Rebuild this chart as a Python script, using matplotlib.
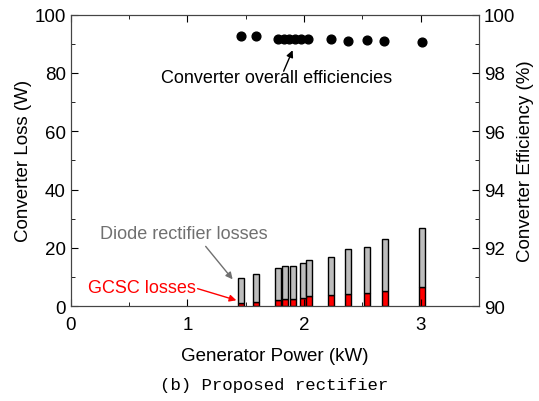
import matplotlib.pyplot as plt
from matplotlib.ticker import MultipleLocator

plt.rcParams['font.family'] = ['Liberation Sans', 'DejaVu Sans']

# bar data (kW, W)
bar_power = [1.459, 1.588, 1.777, 1.840, 1.905, 1.988, 2.045, 2.231, 2.377, 2.539, 2.691, 3.010]
total_loss = [9.6, 10.9, 13.1, 13.8, 13.9, 14.8, 15.8, 16.9, 19.5, 20.4, 23.0, 26.7]
gcsc_loss = [1.0, 1.5, 2.2, 2.4, 2.5, 2.8, 3.4, 3.7, 4.0, 4.5, 5.2, 6.5]

# efficiency points (kW, %)
eff_power = [1.459, 1.588, 1.777, 1.829, 1.871, 1.920, 1.974, 2.034, 2.228, 2.374, 2.539, 2.688, 3.010]
efficiency = [99.28, 99.26, 99.18, 99.18, 99.18, 99.18, 99.18, 99.16, 99.17, 99.10, 99.12, 99.08, 99.05]

diode_loss = [t - g for t, g in zip(total_loss, gcsc_loss)]

fig = plt.figure(figsize=(5.39, 4.02), dpi=100)
ax = fig.add_axes([0.131, 0.236, 0.758, 0.725])

ax.bar(bar_power, gcsc_loss, width=0.05, color='red', edgecolor='black', linewidth=1)
ax.bar(bar_power, diode_loss, width=0.05, bottom=gcsc_loss, color='#bdbdbd',
       edgecolor='black', linewidth=1)

ax.set_xlim(0, 3.5)
ax.set_ylim(0, 100)
ax.xaxis.set_major_locator(MultipleLocator(1))
ax.xaxis.set_minor_locator(MultipleLocator(0.5))
ax.yaxis.set_major_locator(MultipleLocator(20))
ax.yaxis.set_minor_locator(MultipleLocator(10))
ax.tick_params(which='both', direction='in', top=True, labelsize=13.5)
ax.tick_params(which='major', length=5)
ax.tick_params(which='minor', length=3)
ax.tick_params(axis='x', pad=7)
ax.set_xlabel('Generator Power (kW)', fontsize=13.5, labelpad=10)
ax.set_ylabel('Converter Loss (W)', fontsize=13.5, labelpad=2)

ax2 = ax.twinx()
ax2.plot(eff_power, efficiency, 'o', color='black', markersize=6.3)
ax2.set_ylim(90, 100)
ax2.yaxis.set_major_locator(MultipleLocator(2))
ax2.yaxis.set_minor_locator(MultipleLocator(1))
ax2.tick_params(which='both', direction='in', labelsize=13.5)
ax2.tick_params(which='major', length=5)
ax2.tick_params(which='minor', length=3)
ax2.set_ylabel('Converter Efficiency (%)', fontsize=13.5, labelpad=1)

for a in (ax, ax2):
    for s in a.spines.values():
        s.set_color('#444444')

# annotations: text and arrows
ax.text(1.765, 78.4, 'Converter overall efficiencies', fontsize=13,
        ha='center', va='center')
ax.annotate('', xy=(1.902, 87.8), xytext=(1.825, 80.6),
            arrowprops=dict(arrowstyle='-|>', color='black', lw=1,
                            shrinkA=0, shrinkB=0, mutation_scale=10))
ax.text(0.968, 25.0, 'Diode rectifier losses', fontsize=13, color='#707070',
        ha='center', va='center')
ax.annotate('', xy=(1.388, 9.2), xytext=(1.157, 20.5),
            arrowprops=dict(arrowstyle='-|>', color='#707070', lw=1,
                            shrinkA=0, shrinkB=0, mutation_scale=10))
ax.text(0.608, 6.5, 'GCSC losses', fontsize=13, color='red',
        ha='center', va='center')
ax.annotate('', xy=(1.42, 2.0), xytext=(1.088, 6.0),
            arrowprops=dict(arrowstyle='-|>', color='red', lw=1,
                            shrinkA=0, shrinkB=0, mutation_scale=10))

fig.text(0.508, 0.04, '(b) Proposed rectifier', fontsize=12.5, ha='center', va='center',
         family=['Liberation Mono', 'DejaVu Sans Mono'])

fig.savefig('out.png', dpi=100)
